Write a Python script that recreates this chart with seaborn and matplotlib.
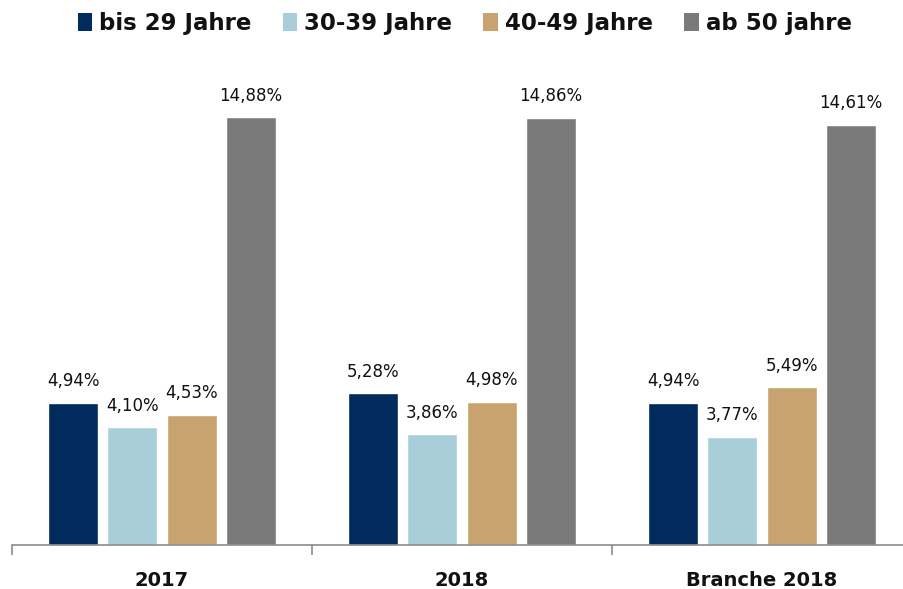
import matplotlib
matplotlib.use("Agg")
import matplotlib.pyplot as plt
from matplotlib.patches import Patch
import seaborn as sns
import pandas as pd

# Daten
gruppen = ["2017", "2018", "Branche 2018"]
altersklassen = ["bis 29 Jahre", "30-39 Jahre", "40-49 Jahre", "ab 50 jahre"]
bis29 = [4.94, 5.28, 4.94]
j30_39 = [4.10, 3.86, 3.77]
j40_49 = [4.53, 4.98, 5.49]
ab50 = [14.88, 14.86, 14.61]
farben = ["#002b5c", "#a8cfd9", "#c9a36f", "#7a7a7a"]

werte = [bis29, j30_39, j40_49, ab50]
rows = []
for klasse, serie in zip(altersklassen, werte):
    for g, v in zip(gruppen, serie):
        rows.append({"Gruppe": g, "Alter": klasse, "Wert": v})
df = pd.DataFrame(rows)

sns.set_style("white")
plt.rcParams["font.family"] = ["DejaVu Sans"]

fig = plt.figure(figsize=(9.04, 5.89), dpi=100)
ax = fig.add_axes([12 / 904, 44 / 589, 900 / 904, 460 / 589])

sns.barplot(data=df, x="Gruppe", y="Wert", hue="Alter", order=gruppen,
            hue_order=altersklassen, palette=farben, width=0.787, gap=0.153,
            saturation=1, legend=False, ax=ax)

for cont in ax.containers:
    for bar in cont:
        h = bar.get_height()
        ax.annotate(f"{h:.2f}%".replace(".", ","),
                    (bar.get_x() + bar.get_width() / 2, h),
                    xytext=(0, 9), textcoords="offset points",
                    ha="center", va="bottom", fontsize=12, color="#111111")

ax.set_xlim(-0.5, 2.5)
ax.set_ylim(0, 16)
ax.set_xlabel("")
ax.set_ylabel("")
ax.set_yticks([])
for s in ["top", "right", "left"]:
    ax.spines[s].set_visible(False)
ax.spines["bottom"].set_color("#8c8c8c")
ax.spines["bottom"].set_linewidth(1.2)

# Trennstriche zwischen den Gruppen
ax.set_xticks([-0.5, 0.5, 1.5, 2.5], minor=True)
ax.tick_params(axis="x", which="minor", bottom=True, length=7, width=1.2,
               color="#8c8c8c", direction="out")
ax.tick_params(axis="x", which="major", length=0, pad=19)
for lbl in ax.get_xticklabels():
    lbl.set_fontweight("bold")
    lbl.set_fontsize(14)
    lbl.set_color("#111111")

handles = [Patch(facecolor=c, edgecolor="none") for c in farben]
fig.legend(handles, altersklassen, loc="upper center", bbox_to_anchor=(0.514, 1.015),
           ncol=4, frameon=False, handlelength=0.65, handleheight=0.85,
           handletextpad=0.3, columnspacing=1.35, labelcolor="#111111",
           prop={"weight": "bold", "size": 16.5})

fig.savefig("out.png", dpi=100)
